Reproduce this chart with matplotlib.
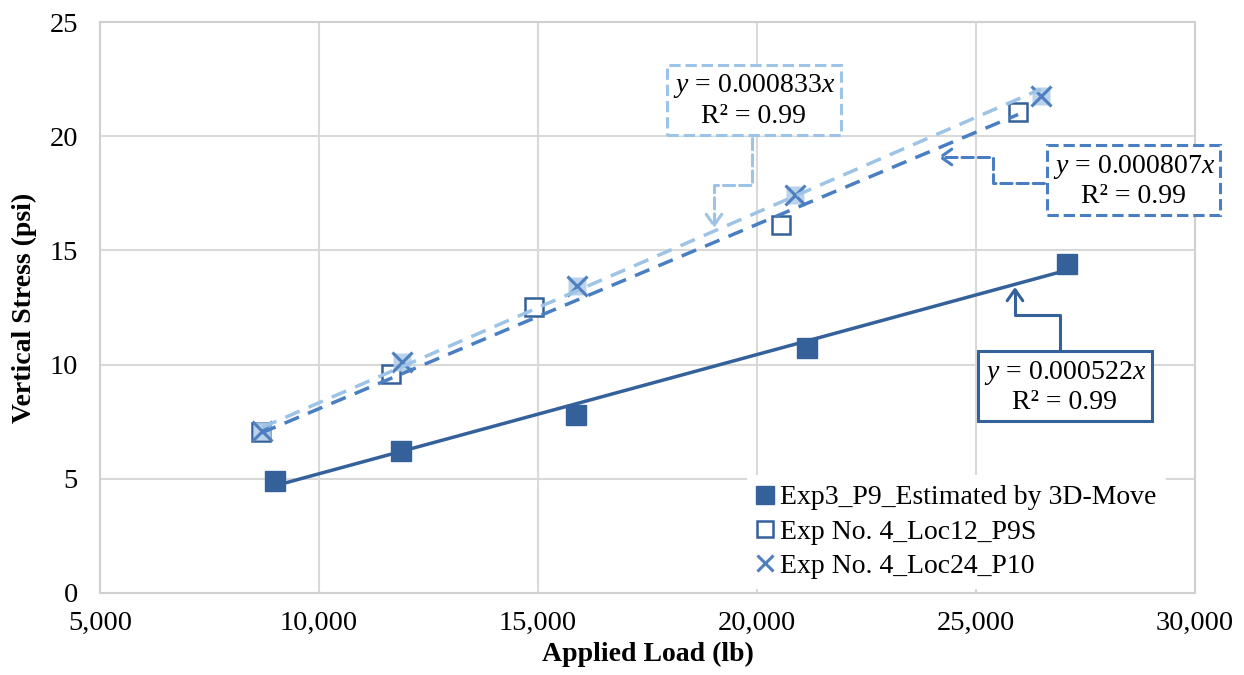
import numpy as np
import matplotlib.pyplot as plt
from matplotlib.lines import Line2D
from matplotlib.patches import FancyArrowPatch
from matplotlib.path import Path

plt.rcParams['font.family'] = ['Liberation Serif', 'DejaVu Serif']
plt.rcParams['mathtext.fontset'] = 'custom'
plt.rcParams['mathtext.rm'] = 'Liberation Serif'
plt.rcParams['mathtext.it'] = 'Liberation Serif:italic'

# data
exp3_load = [9000, 11880, 15870, 21140, 27080]
exp3_stress = [4.92, 6.2, 7.8, 10.73, 14.42]
loc12_load = [8680, 11650, 14900, 20550, 25960]
loc12_stress = [7.05, 9.6, 12.5, 16.1, 21.06]
loc24_load = [8700, 11900, 15880, 20870, 26480]
loc24_stress = [7.1, 10.1, 13.45, 17.43, 21.77]
labels = ['Exp3_P9_Estimated by 3D-Move', 'Exp No. 4_Loc12_P9S', 'Exp No. 4_Loc24_P10']
slopes = [0.000522, 0.000807, 0.000833]
r2 = [0.99, 0.99, 0.99]

dark = '#35619A'
mid = '#4A7EC2'
light = '#9DC3E6'
xcol = '#4F7FBE'

fig = plt.figure(figsize=(12.44, 6.75), dpi=100)
ax = fig.add_axes([0.0804, 0.1215, 0.8802, 0.8459])

# markers
ax.plot(exp3_load, exp3_stress, 's', ms=15, color=dark, mec=dark, zorder=3)
ax.plot(loc12_load, loc12_stress, 's', ms=13, mfc='white', mec=dark, mew=1.8, zorder=3)
ax.plot(loc24_load, loc24_stress, 's', ms=13, color='#B4CDEA', alpha=0.9, mec='none', zorder=4)
ax.plot(loc24_load, loc24_stress, 'x', ms=14, color=xcol, mew=2.2, zorder=4)

# trend lines through origin
for xs, k, c, ls in [(exp3_load, slopes[0], dark, '-'),
                     (loc12_load, slopes[1], mid, (0, (4.5, 2.8))),
                     (loc24_load, slopes[2], light, (0, (4.5, 2.8)))]:
    xx = np.array([min(xs), max(xs)])
    ax.plot(xx, k * xx, color=c, lw=2.5, ls=ls, zorder=5, solid_capstyle='butt')

ax.set_xlim(5000, 30000)
ax.set_ylim(0, 25)
ax.set_xticks(range(5000, 30001, 5000))
ax.set_yticks(range(0, 26, 5))
ax.xaxis.set_major_formatter(lambda v, p: f'{v:,.0f}')
ax.tick_params(length=0, labelsize=20.5, colors='black')
ax.tick_params(axis='x', pad=13)
ax.tick_params(axis='y', pad=16)
ax.grid(color='#D9D9D9', lw=1.5)
ax.set_axisbelow(True)
for s in ax.spines.values():
    s.set_color('#D0D0D0')
    s.set_linewidth(1.5)

ax.set_xlabel('Applied Load (lb)', fontsize=20, fontweight='bold', labelpad=4)
ax.set_ylabel('Vertical Stress (psi)', fontsize=20, fontweight='bold', labelpad=9)

# equation boxes with elbow connectors
boxes = [
    (slopes[2], r2[2], (19930, 21.55), light, '--',
     [(19886, 19.92), (19886, 17.86), (19018, 17.86), (19018, 15.98)]),
    (slopes[1], r2[1], (28600, 18.04), mid, '--',
     [(26560, 17.95), (25388, 17.95), (25388, 19.09), (24132, 19.09)]),
    (slopes[0], r2[0], (27030, 9.02), dark, '-',
     [(26918, 10.64), (26918, 12.17), (25890, 12.17), (25890, 13.4)]),
]
for k, r, pos, c, ls, pts in boxes:
    ax.text(pos[0], pos[1], f'$y$ = {k:.6f}$x$\nR² = {r:.2f}', fontsize=20,
            ha='center', va='center', linespacing=1.2, zorder=7, clip_on=False,
            bbox=dict(boxstyle='square,pad=0.2', fc='white', ec=c, ls=ls, lw=2.2))
    codes = [Path.MOVETO] + [Path.LINETO] * (len(pts) - 1)
    arr = FancyArrowPatch(path=Path(pts, codes), arrowstyle='->,head_length=0.5,head_width=0.35',
                          mutation_scale=16, color=c, lw=2.2, ls=ls, zorder=6)
    ax.add_patch(arr)

handles = [
    Line2D([], [], ls='none', marker='s', ms=13, color=dark),
    Line2D([], [], ls='none', marker='s', ms=12, mfc='white', mec=dark, mew=1.8),
    Line2D([], [], ls='none', marker='x', ms=12, color=xcol, mew=2.2),
]
leg = ax.legend(handles, labels, loc='lower left', bbox_to_anchor=(0.587, 0.0),
                fontsize=20, frameon=True, framealpha=1, edgecolor='none',
                handlelength=0.6, handletextpad=0.25, labelspacing=0.32,
                borderpad=0.35, borderaxespad=0.15)
leg.set_zorder(8)

fig.savefig('out.png', dpi=100)
